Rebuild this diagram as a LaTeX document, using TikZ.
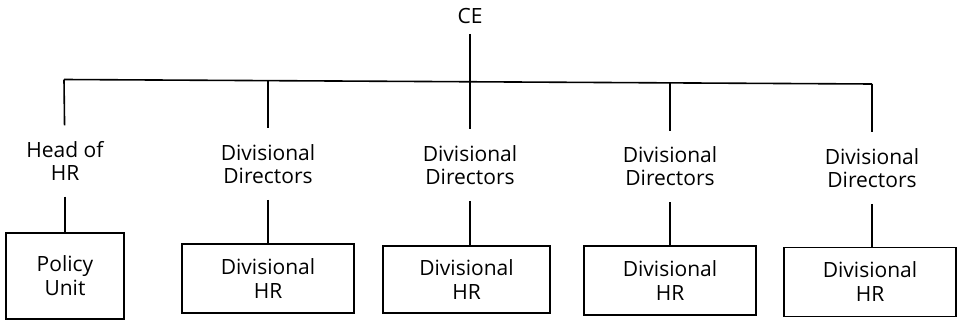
\documentclass[tikz,border=0pt]{standalone}
\usepackage{fontspec}
\setmainfont{Open Sans}
\begin{document}
\begin{tikzpicture}[x=1pt,y=-1pt,
  conn/.style={line width=1.6pt},
  post/.style={align=center, font=\fontsize{21}{23}\selectfont, inner xsep=0pt, inner ysep=16pt},
  unit/.style={draw, line width=1.6pt, align=center, font=\fontsize{21}{24}\selectfont,
    inner sep=0pt, minimum width=172pt, minimum height=69pt}]
\useasboundingbox (0,0) rectangle (958,321);

% chief executive
\node[font=\fontsize{21}{23}\selectfont, inner xsep=0pt, inner ysep=10pt] (ce) at (470,16) {CE};

% junctions on the horizontal bar
\coordinate (b1) at (64,79.5);
\coordinate (b2) at (268,80.6);
\coordinate (b4) at (670,82.9);
\coordinate (b5) at (872,84);

% second tier
\node[post] (p1) at (65,161)  {Head of\\HR};
\node[post] (p2) at (268,164) {Divisional\\Directors};
\node[post] (p3) at (470,165) {Divisional\\Directors};
\node[post] (p4) at (670,166.5) {Divisional\\Directors};
\node[post] (p5) at (872,168) {Divisional\\Directors};

% units
\node[unit, minimum width=118pt, minimum height=86pt] (u1) at (65,276) {Policy\\Unit};
\node[unit] (u2) at (268,278.5) {Divisional\\HR};
\node[unit, minimum width=167pt, minimum height=67pt] (u3) at (466.5,279.5) {Divisional\\HR};
\node[unit] (u4) at (670,280.5) {Divisional\\HR};
\node[unit] (u5) at (870,282) {Divisional\\HR};

% connectors
\draw[conn] (b1) -- (b5);
\draw[conn] (ce) -- (p3);
\draw[conn] (b1) -- (p1);
\draw[conn] (b2) -- (p2);
\draw[conn] (b4) -- (p4);
\draw[conn] (b5) -- (p5);

\draw[conn] (p1) -- (p1 |- u1.north);
\draw[conn] (p2) -- (p2 |- u2.north);
\draw[conn] (p3) -- (p3 |- u3.north);
\draw[conn] (p4) -- (p4 |- u4.north);
\draw[conn] (p5) -- (p5 |- u5.north);
\end{tikzpicture}
\end{document}
